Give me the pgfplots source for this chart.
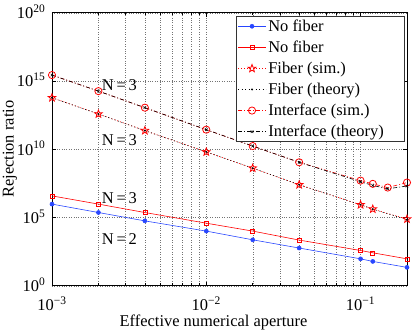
\documentclass[border=0pt]{standalone}
\usepackage{fontspec}
\setmainfont{Liberation Serif}
\usepackage{pgfplots}
\pgfplotsset{compat=1.18}
\definecolor{mblue}{RGB}{40,70,255}
\definecolor{mred}{RGB}{255,0,0}
% outlined five-pointed star, like Matlab's 'p' marker
\pgfdeclareplotmark{pstar}{%
  \pgfpathmoveto{\pgfpointpolar{90}{\pgfplotmarksize}}%
  \pgfpathlineto{\pgfpointpolar{126}{0.42\pgfplotmarksize}}%
  \pgfpathlineto{\pgfpointpolar{162}{\pgfplotmarksize}}%
  \pgfpathlineto{\pgfpointpolar{198}{0.42\pgfplotmarksize}}%
  \pgfpathlineto{\pgfpointpolar{234}{\pgfplotmarksize}}%
  \pgfpathlineto{\pgfpointpolar{270}{0.42\pgfplotmarksize}}%
  \pgfpathlineto{\pgfpointpolar{306}{\pgfplotmarksize}}%
  \pgfpathlineto{\pgfpointpolar{342}{0.42\pgfplotmarksize}}%
  \pgfpathlineto{\pgfpointpolar{18}{\pgfplotmarksize}}%
  \pgfpathlineto{\pgfpointpolar{54}{0.42\pgfplotmarksize}}%
  \pgfpathclose
  \pgfusepathqstroke}
\begin{document}
\begin{tikzpicture}[font=\fontsize{16.5}{19}\selectfont]
\begin{axis}[
  scale only axis,
  width=355bp, height=273bp,
  xmode=log, ymode=log,
  xmin=0.001, xmax=0.2,
  ymin=1, ymax=1e20,
  xtick={0.001,0.01,0.1},
  xticklabels={10\textsuperscript{−3},10\textsuperscript{−2},10\textsuperscript{−1}},
  ytick={1,1e5,1e10,1e15,1e20},
  yticklabels={10\textsuperscript{0},10\textsuperscript{5},10\textsuperscript{10},10\textsuperscript{15},10\textsuperscript{20}},
  xticklabel style={anchor=base, inner sep=0pt, yshift=-25bp},
  yticklabel style={anchor=base east, inner sep=0pt, xshift=-6.5bp, yshift=-6bp},
  yminorticks=false,
  xmajorgrids, xminorgrids, ymajorgrids,
  grid style={dotted, black!55},
  minor grid style={dotted, black!55},
  tick align=inside,
  major tick length=4bp, minor tick length=2.5bp,
  axis line style={line width=0.8pt},
  every tick/.style={black, line width=0.5pt},
  xlabel={Effective numerical aperture},
  ylabel={Rejection ratio},
  xlabel style={at={(axis description cs:0.5,0)}, anchor=base, xshift=-16bp, yshift=-41bp},
  ylabel style={at={(axis description cs:0,0.5)}, anchor=center, inner sep=0pt, yshift=42bp},
  legend cell align=left,
  legend style={at={(1,1)}, xshift=-3bp, yshift=-3.3bp, anchor=north east,
    inner xsep=1bp, inner ysep=1.5bp, row sep=4.1bp,
    font=\fontsize{16.5}{19}\selectfont, draw=black!80, line width=0.5pt},
  legend image code/.code={
    \draw[mark repeat=2,mark phase=2,#1] plot coordinates {(0bp,0bp) (14bp,0bp) (28bp,0bp)};
  },
]
\addplot[mblue, line width=0.6pt, mark=*, mark size=2bp] coordinates {
  (0.001,9.5e5) (0.002,2.3e5) (0.004,5.6e4) (0.01,1.0e4) (0.02,2.3e3)
  (0.04,575) (0.1,93) (0.12,60) (0.2,22)
};
\addlegendentry{No fiber}
\addplot[mred, line width=0.6pt, mark=square, mark size=2bp, mark options={solid, mred}] coordinates {
  (0.001,3.8e6) (0.002,9.5e5) (0.004,2.3e5) (0.01,3.8e4) (0.02,1.0e4)
  (0.04,2.2e3) (0.1,380) (0.12,257) (0.2,93)
};
\addlegendentry{No fiber}
\addplot[mred, line width=0.6pt, dash pattern=on 1bp off 2bp, mark=pstar, mark size=4bp, mark options={solid, line width=0.8pt}] coordinates {
  (0.001,5.9e13) (0.002,3.8e12) (0.004,2.3e11) (0.01,6.3e9) (0.02,4.1e8)
  (0.04,2.5e7) (0.1,8.5e5) (0.12,4.1e5) (0.2,7.6e4)
};
\addlegendentry{Fiber (sim.)}
\addplot[black, line width=0.6pt, dash pattern=on 1bp off 2.5bp, mark=*, mark size=0.6bp, mark options={solid}] coordinates {
  (0.001,5.9e13) (0.002,3.8e12) (0.004,2.3e11) (0.01,6.3e9) (0.02,4.1e8)
  (0.04,2.5e7) (0.1,8.5e5) (0.12,4.1e5) (0.2,6.8e4)
};
\addlegendentry{Fiber (theory)}
\addplot[mred, line width=0.6pt, dash pattern=on 4bp off 2bp on 1bp off 2bp, mark=o, mark size=3.6bp, mark options={solid, line width=0.8pt}] coordinates {
  (0.001,2.7e15) (0.002,1.8e14) (0.004,1.1e13) (0.01,2.7e11) (0.02,1.7e10)
  (0.04,1.1e9) (0.1,5.0e7) (0.12,2.9e7) (0.15,1.55e7) (0.2,3.6e7)
};
\addlegendentry{Interface (sim.)}
\addplot[black, line width=0.6pt, dash pattern=on 4bp off 2bp on 1bp off 2bp, mark=x, mark size=1.8bp, mark options={solid}] coordinates {
  (0.001,2.7e15) (0.002,1.8e14) (0.004,1.1e13) (0.01,2.7e11) (0.02,1.7e10)
  (0.04,1.1e9) (0.1,4.2e7) (0.12,2.2e7) (0.15,1.26e7) (0.2,2.0e7)
};
\addlegendentry{Interface (theory)\hspace*{17bp}}
\node[anchor=west] at (axis cs:0.002,5.0e14) {N\,=\,3};
\node[anchor=west] at (axis cs:0.002,4.3e10) {N\,=\,3};
\node[anchor=west] at (axis cs:0.002,2.6e6) {N\,=\,3};
\node[anchor=west] at (axis cs:0.002,2.6e3) {N\,=\,2};
\end{axis}
\pgfresetboundingbox
\path ([xshift=-52bp,yshift=-45bp]current axis.south west) rectangle ([xshift=6bp,yshift=12.7bp]current axis.north east);
\end{tikzpicture}
\end{document}
